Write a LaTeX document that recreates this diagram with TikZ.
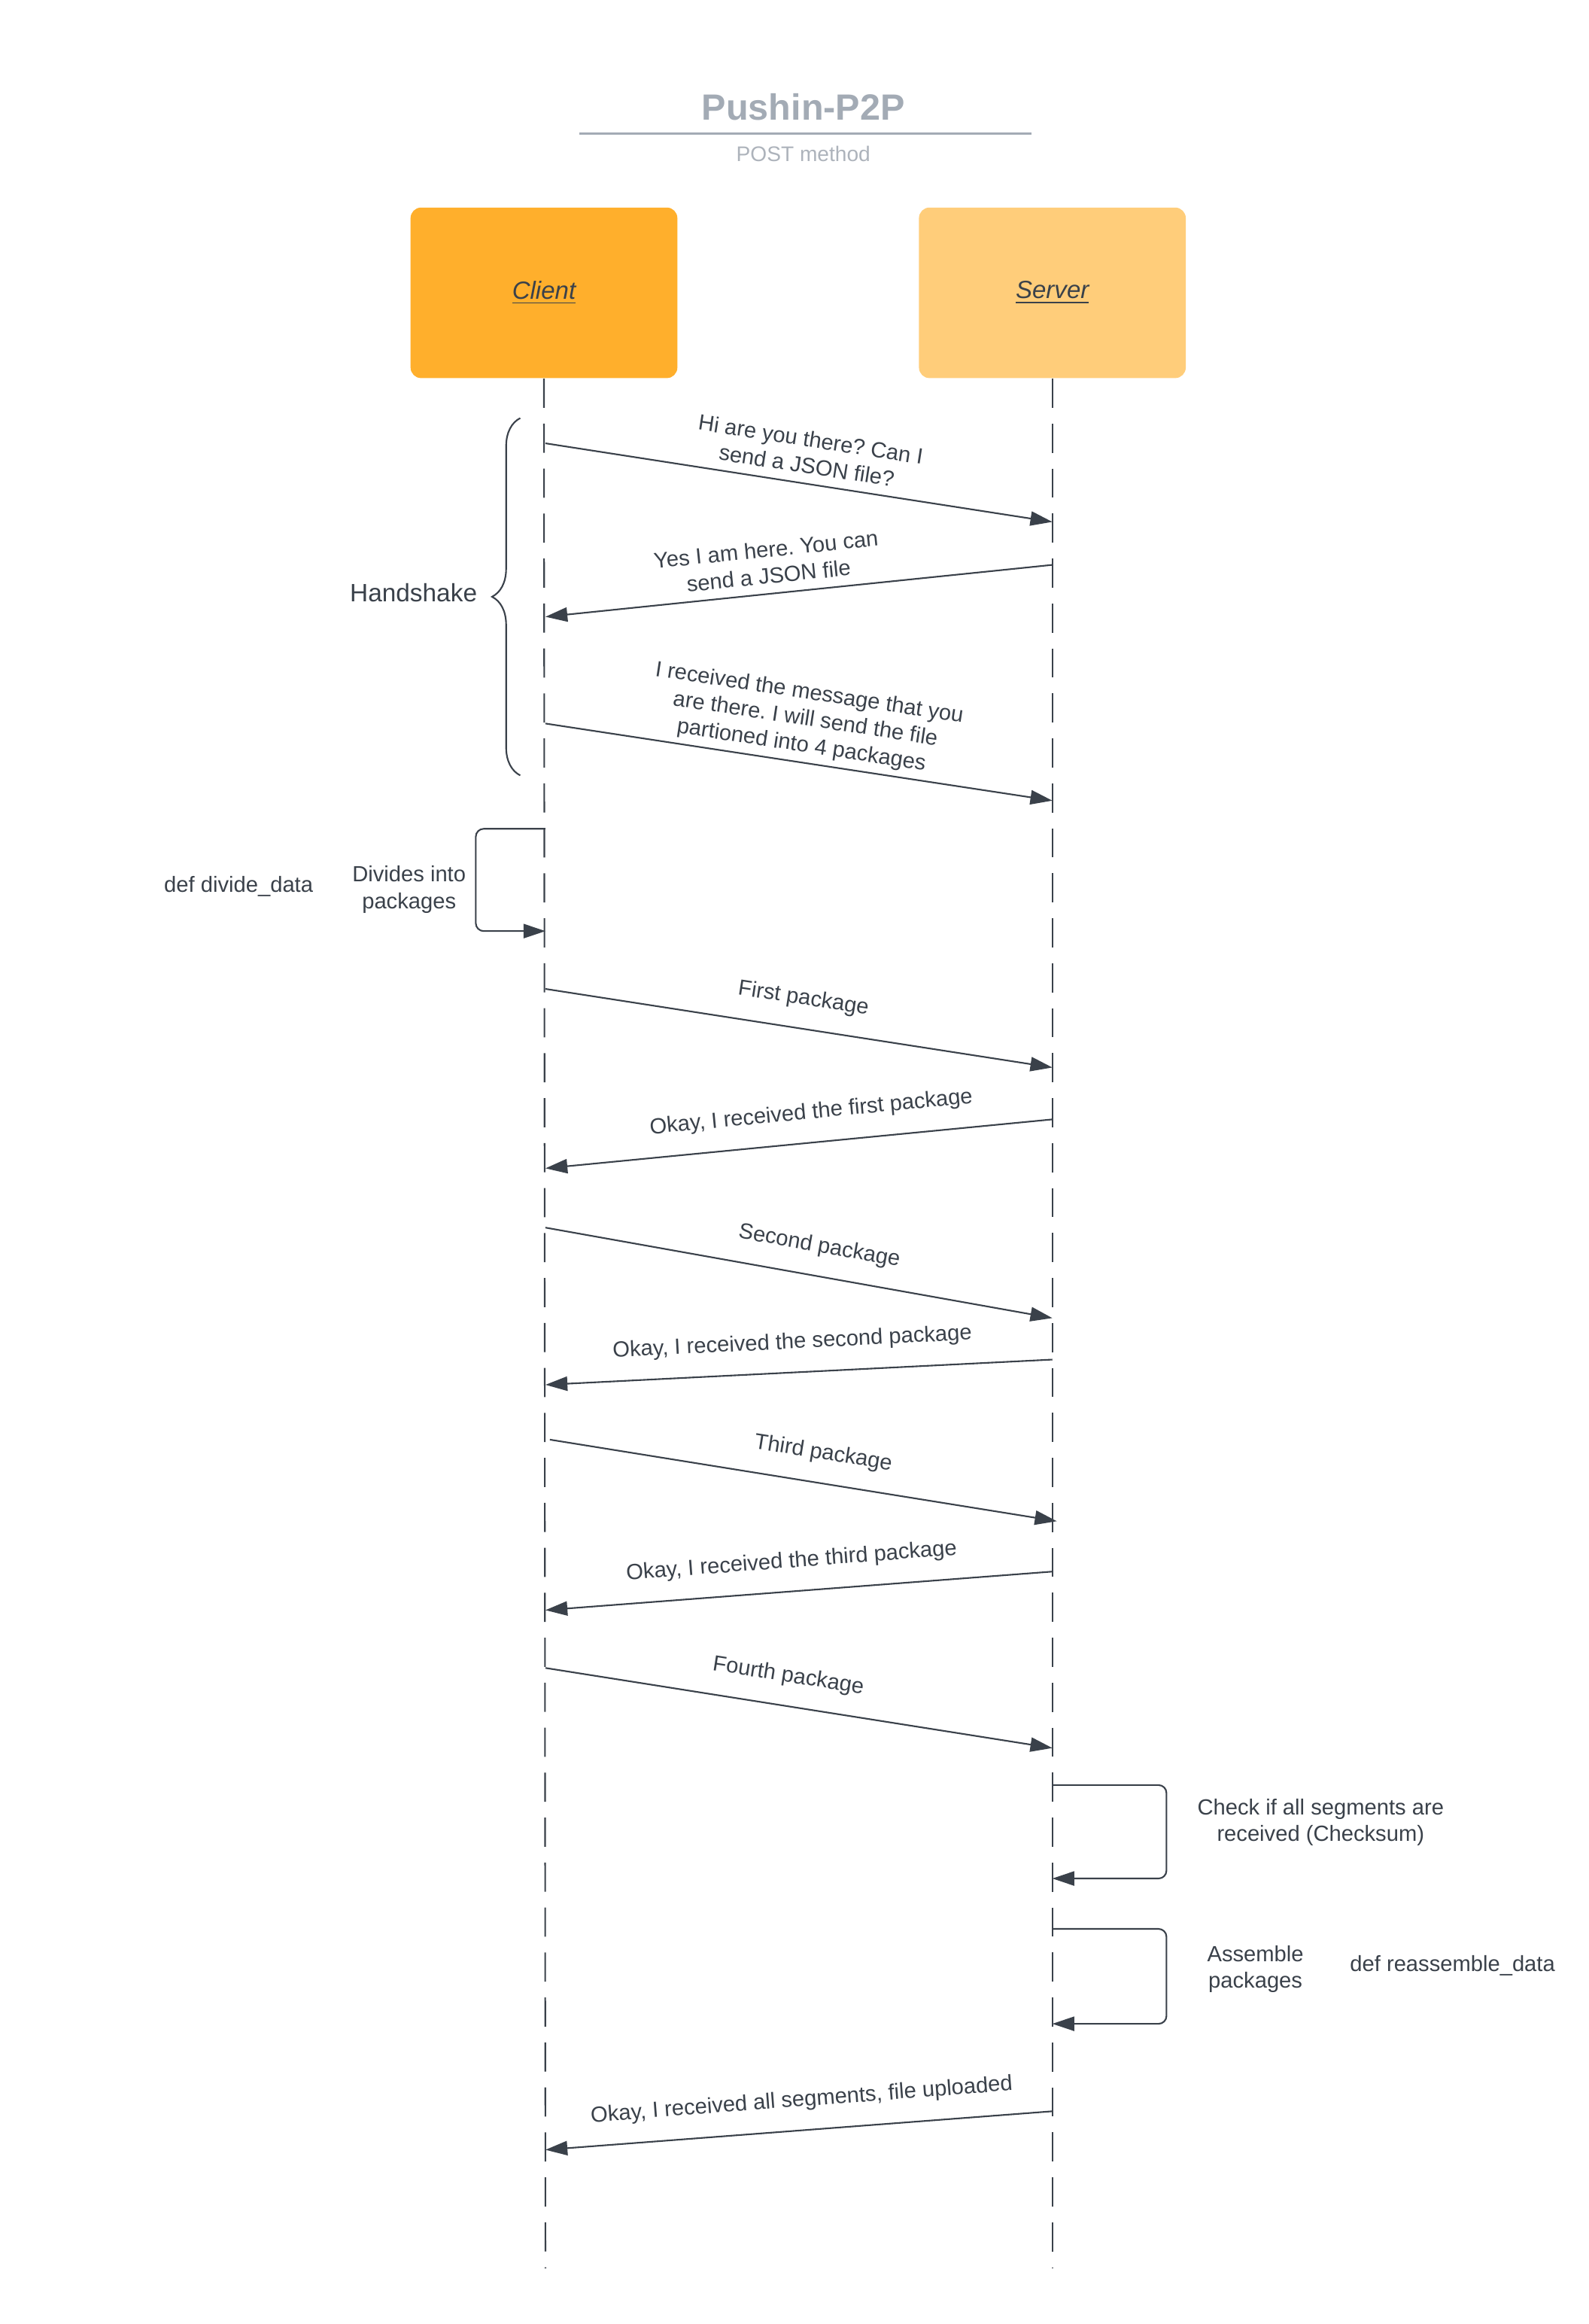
\documentclass[tikz,border=0pt]{standalone}
\usepackage{fontspec}
\setmainfont{Liberation Sans}
\usepackage{xcolor}
\usetikzlibrary{
  positioning,
  arrows.meta,
  calc,
  decorations.pathreplacing
}
\definecolor{linecol}{HTML}{3A414A}
\definecolor{titlegray}{HTML}{A3ABB5}
\definecolor{subgray}{HTML}{ADB3BB}
\definecolor{clientfill}{HTML}{FFAF2C}
\definecolor{serverfill}{HTML}{FFCD7A}
\frenchspacing

\begin{document}
\begin{tikzpicture}[
  x=0.019701cm, y=-0.019701cm,
  font=\fontsize{8.3}{10}\selectfont,
  actor/.style={
    draw=none,
    rounded corners=4pt,
    minimum width=3.546cm,
    minimum height=2.266cm,
    text=linecol,
    font=\fontsize{9.4}{11}\selectfont\itshape
  },
  lifeline/.style={
    draw=linecol,
    line width=0.6pt,
    dash pattern=on 11pt off 6pt
  },
  msg/.style={
    draw=linecol,
    line width=0.6pt,
    -{Triangle[length=8.3pt, width=5.4pt]}
  },
  lbl/.style={
    sloped,
    inner sep=1pt,
    align=center,
    text=linecol
  },
  note/.style={
    align=center,
    text=linecol
  }
]
\useasboundingbox (0,0) rectangle (1072,1567.5);

% Title
\node[text=titlegray, font=\fontsize{13.8}{16}\selectfont\bfseries] (title) at (542,72) {Pushin-P2P};
\draw[titlegray, line width=1pt] (391,90) -- (696,90);
\node[text=subgray, font=\fontsize{8}{10}\selectfont] (subtitle) at (542,104) {POST method};

% Actors
\node[actor, fill=clientfill] (client) at (367,197.5) {\underline{Client}};
\node[actor, fill=serverfill] (server) at (710,197.5) {\underline{Server}};

% Lifelines
\coordinate (cend) at (368,1530);
\coordinate (send) at (710,1530);
\draw[lifeline] (client.south) -- (cend);
\draw[lifeline] (server.south) -- (send);

% Handshake
\coordinate (c1) at (368,299);  \coordinate (s1) at (710,352);
\coordinate (s2) at (710,381);  \coordinate (c2) at (368,416);
\coordinate (c3) at (368,488);  \coordinate (s3) at (710,540);
\draw[msg] (c1) -- node[lbl, pos=0.51, above=2.5pt] {Hi are you there? Can I\\send a JSON file?} (s1);
\draw[msg] (s2) -- node[lbl, pos=0.556, above=2.5pt] {Yes I am here. You can\\send a JSON file} (c2);
\draw[msg] (c3) -- node[lbl, pos=0.5, above=1pt] {I received the message that you\\are there. I will send the file\\partioned into 4 packages} (s3);

\coordinate (btop) at (351,282);
\coordinate (bbot) at (351,523);
\draw[linecol, line width=0.6pt, decorate, decoration={brace, amplitude=0.375cm}] (bbot) -- (btop);
\node[note, font=\fontsize{9.5}{11}\selectfont] (handshake) at (279,400) {Handshake};

% Divide on client
\coordinate (d1) at (368,559);
\coordinate (d2) at (368,628);
\draw[msg, rounded corners=3pt] (d1) -- ++(-47,0) |- (d2);
\node[note] (divides) at (276,600) {Divides into\\packages};
\node[note] (divfn) at (161,598) {def divide\_data};

% Packages
\coordinate (c4) at (368,667);  \coordinate (s4) at (710,720);
\coordinate (s5) at (710,755);  \coordinate (c5) at (368,788);
\coordinate (c6) at (368,828);  \coordinate (s6) at (710,889);
\coordinate (s7) at (710,917);  \coordinate (c7) at (368,934);
\coordinate (c8) at (371,971);  \coordinate (s8) at (713,1026);
\coordinate (s9) at (710,1060); \coordinate (c9) at (368,1086);
\coordinate (c10) at (368,1125); \coordinate (s10) at (710,1179);
\draw[msg] (c4) -- node[lbl, pos=0.5, above=6pt] {First package} (s4);
\draw[msg] (s5) -- node[lbl, pos=0.47, above=6pt] {Okay, I received the first package} (c5);
\draw[msg] (c6) -- node[lbl, pos=0.53, above=6pt] {Second package} (s6);
\draw[msg] (s7) -- node[lbl, pos=0.51, above=6pt] {Okay, I received the second package} (c7);
\draw[msg] (c8) -- node[lbl, pos=0.53, above=6pt] {Third package} (s8);
\draw[msg] (s9) -- node[lbl, pos=0.51, above=6pt] {Okay, I received the third package} (c9);
\draw[msg] (c10) -- node[lbl, pos=0.47, above=6pt] {Fourth package} (s10);

% Checks on server
\coordinate (k1) at (710,1204);
\coordinate (k2) at (710,1267);
\coordinate (k3) at (710,1301);
\coordinate (k4) at (710,1365);
\draw[msg, rounded corners=3pt] (k1) -- ++(77,0) |- (k2);
\draw[msg, rounded corners=3pt] (k3) -- ++(77,0) |- (k4);
\node[note] (checksum) at (891,1229) {Check if all segments are\\received (Checksum)};
\node[note] (assemble) at (847,1328) {Assemble\\packages};
\node[note] (asmfn) at (980,1326) {def reassemble\_data};

% Done
\coordinate (s11) at (710,1424); \coordinate (c11) at (368,1450);
\draw[msg] (s11) -- node[lbl, pos=0.49, above=6pt] {Okay, I received all segments, file uploaded} (c11);

\end{tikzpicture}
\end{document}
